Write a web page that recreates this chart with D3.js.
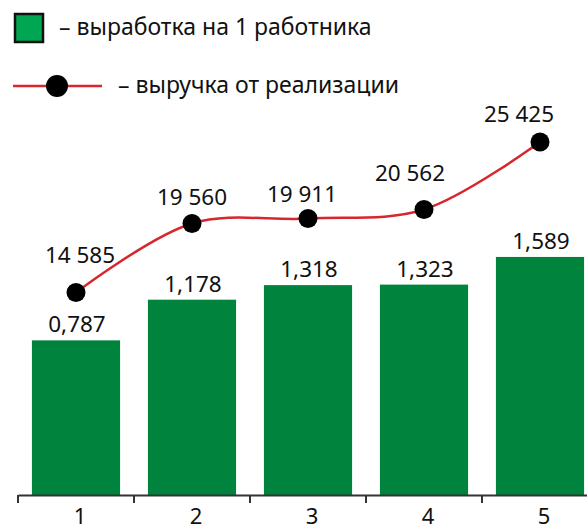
<!DOCTYPE html>
<html>
<head>
<meta charset="utf-8">
<script src="https://cdn.jsdelivr.net/npm/d3@7"></script>
<style>
  body { margin: 0; background: #fff; }
  text { font-family: "Noto Sans", sans-serif; fill: #111; }
</style>
</head>
<body>
<div id="chart"></div>
<script>
// data
const categories = ["1", "2", "3", "4", "5"];
const outputPerWorker = [0.787, 1.178, 1.318, 1.323, 1.589];
const revenue = [14585, 19560, 19911, 20562, 25425];
const barLabels = ["0,787", "1,178", "1,318", "1,323", "1,589"];
const lineLabels = ["14 585", "19 560", "19 911", "20 562", "25 425"];
const legendBar = "– выработка на 1 работника";
const legendLine = "– выручка от реализации";

const width = 587, height = 526;
const axisY = 495;

const svg = d3.select("#chart")
  .append("svg")
  .attr("width", width)
  .attr("height", height);

// X axis
const x = d3.scaleBand()
  .domain(categories)
  .range([18, 598])
  .paddingInner(0.24)
  .paddingOuter(0.12);

// bars don't start from zero in the original, so the scale is offset
const y = d3.scaleLinear()
  .domain([-0.7, 1.6])
  .range([axisY, axisY - 2.3 * 104]);

// revenue line has its own scale
const y2 = d3.scaleLinear()
  .domain([0, 25425])
  .range([axisY, 142]);

// bars
svg.append("g")
  .selectAll("rect")
  .data(outputPerWorker)
  .join("rect")
  .attr("x", (d, i) => x(categories[i]))
  .attr("y", d => y(d))
  .attr("width", x.bandwidth())
  .attr("height", d => axisY - y(d))
  .attr("fill", "#00843d");

// bar labels
svg.append("g")
  .selectAll("text")
  .data(outputPerWorker)
  .join("text")
  .attr("x", (d, i) => x(categories[i]) + x.bandwidth() / 2 + 1)
  .attr("y", d => y(d) - 8)
  .attr("text-anchor", "middle")
  .style("font-size", "22.5px")
  .text((d, i) => barLabels[i]);

// axis
const axis = svg.append("g")
  .attr("transform", `translate(0,${axisY})`)
  .call(d3.axisBottom(x).tickSize(0).tickPadding(13));
axis.select(".domain").attr("stroke", "#333").attr("stroke-width", 2);
axis.selectAll(".tick text")
  .attr("dx", 4)
  .style("font-size", "22px")
  .style("font-family", "Noto Sans")
  .attr("fill", "#111");

// tick marks at band edges
svg.append("g")
  .selectAll("line")
  .data(categories)
  .join("line")
  .attr("x1", d => x(d) - x.step() * x.paddingOuter())
  .attr("x2", d => x(d) - x.step() * x.paddingOuter())
  .attr("y1", axisY)
  .attr("y2", axisY + 8)
  .attr("stroke", "#333")
  .attr("stroke-width", 2);

// revenue line
const cx = i => x(categories[i]) + x.bandwidth() / 2;
const line = d3.line()
  .x((d, i) => cx(i))
  .y(d => y2(d))
  .curve(d3.curveCatmullRom.alpha(0.5));

svg.append("path")
  .datum(revenue)
  .attr("d", line)
  .attr("fill", "none")
  .attr("stroke", "#d7262e")
  .attr("stroke-width", 2.5);

svg.append("g")
  .selectAll("circle")
  .data(revenue)
  .join("circle")
  .attr("cx", (d, i) => cx(i))
  .attr("cy", d => y2(d))
  .attr("r", 9.5)
  .attr("fill", "#000");

// line labels, nudged like the original
const labelNudge = [[4, 30], [0, 18], [-6, 17], [-14, 29], [-21, 20]];
svg.append("g")
  .selectAll("text")
  .data(revenue)
  .join("text")
  .attr("x", (d, i) => cx(i) + labelNudge[i][0])
  .attr("y", (d, i) => y2(d) - labelNudge[i][1])
  .attr("text-anchor", "middle")
  .style("font-size", "22.5px")
  .text((d, i) => lineLabels[i]);

// legend
svg.append("rect")
  .attr("x", 15).attr("y", 14)
  .attr("width", 28).attr("height", 28)
  .attr("fill", "#00a651")
  .attr("stroke", "#111")
  .attr("stroke-width", 2.5);
svg.append("text")
  .attr("x", 59).attr("y", 35)
  .style("font-size", "23px")
  .text(legendBar);

svg.append("line")
  .attr("x1", 13).attr("x2", 102)
  .attr("y1", 86).attr("y2", 86)
  .attr("stroke", "#d7262e")
  .attr("stroke-width", 2.5);
svg.append("circle")
  .attr("cx", 57).attr("cy", 86).attr("r", 11)
  .attr("fill", "#000");
svg.append("text")
  .attr("x", 118).attr("y", 93)
  .style("font-size", "23px")
  .text(legendLine);
</script>
</body>
</html>
